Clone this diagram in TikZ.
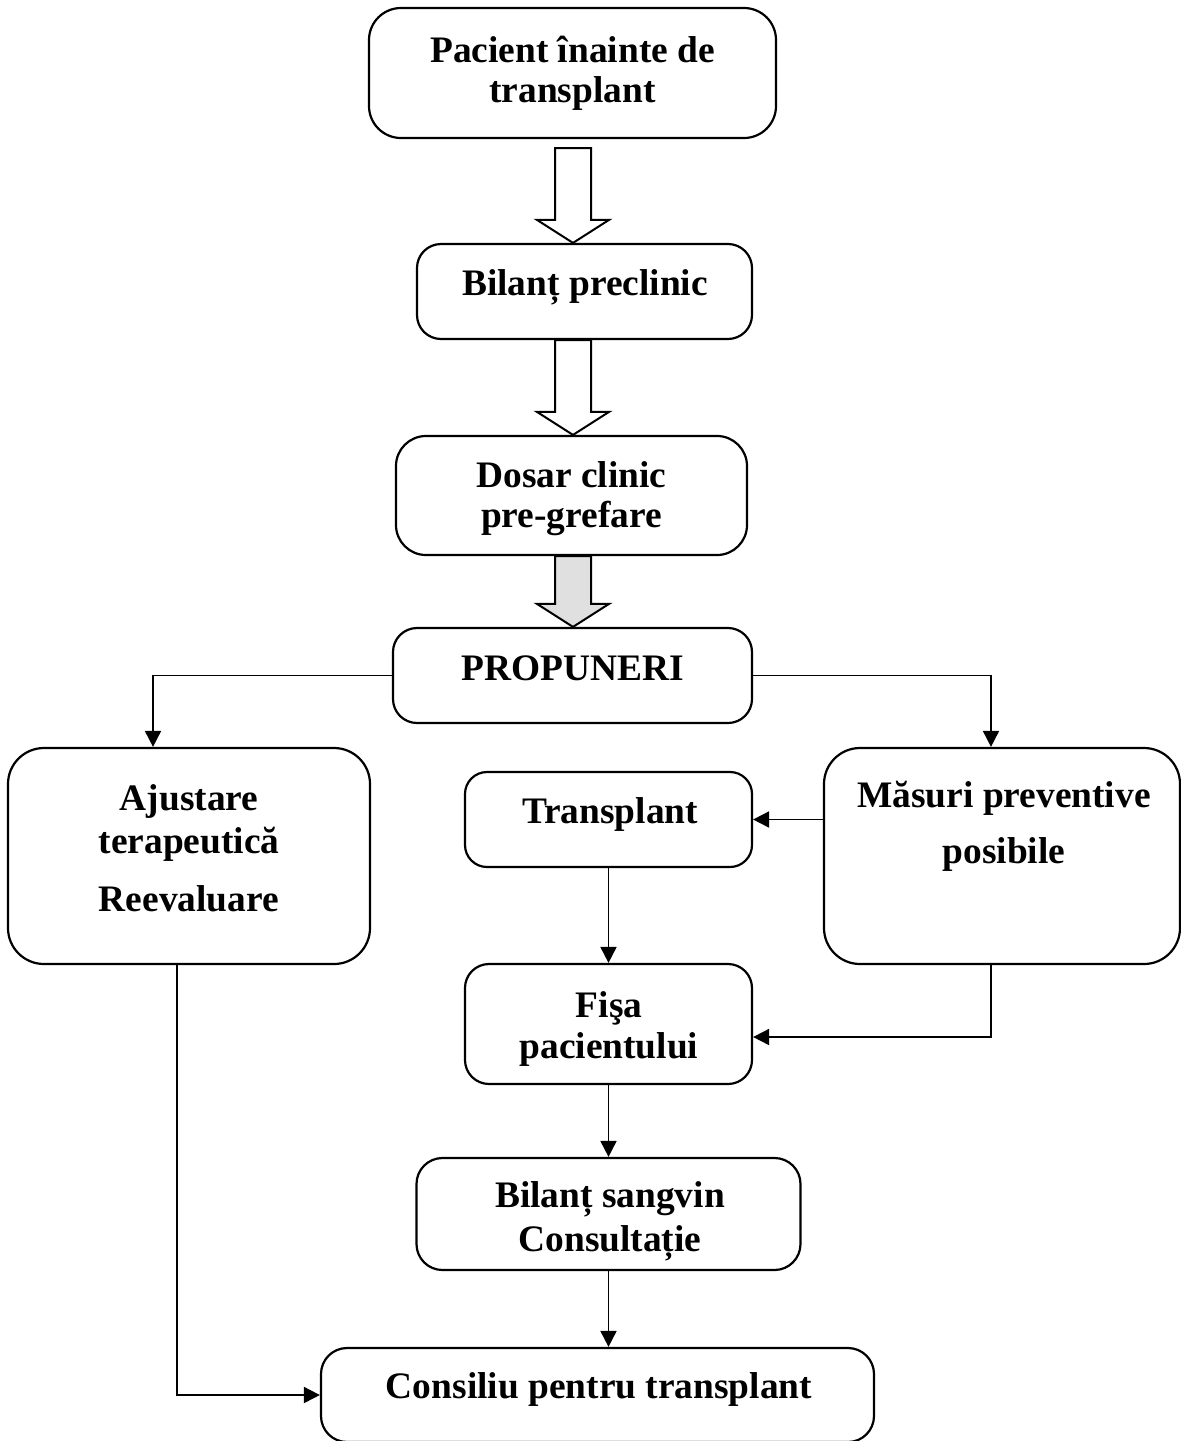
\documentclass[tikz,border=0pt]{standalone}
\usepackage{fontspec}
\setmainfont{Liberation Serif}
\usetikzlibrary{calc,arrows.meta}
\definecolor{shadegray}{gray}{0.88}
\def\fatarrow[#1](#2)(#3){\draw[fat,#1] ($(#2)+(-18,0)$) -- ($(#3)+(-18,-23)$) -- ($(#3)+(-36,-23)$) -- (#3) -- ($(#3)+(36,-23)$) -- ($(#3)+(18,-23)$) -- ($(#2)+(18,0)$) -- cycle;}

\begin{document}
\begin{tikzpicture}[x=0.5pt,y=-0.5pt,
		box/.style={draw, line width=1.1pt, rounded corners=#1, inner sep=0pt},
		box/.default=13pt,
		txt/.style={font=\bfseries\fontsize{18.7}{20}\selectfont, align=center, inner sep=0pt},
		link/.style={line width=0.9pt, -{Triangle[length=8pt,width=8pt]}},
		fat/.style={line width=1pt, fill=white}]
		\useasboundingbox (0,0) rectangle (1181,1441);
		%%%%% BOXES %%%%%
		\node[box=16pt, minimum width=203.5pt, minimum height=65pt] (pacient) at (572.5,73) {};
		\node[box=12pt, minimum width=167.5pt, minimum height=47.5pt] (bilant) at (584.5,291.5) {};
		\node[box=15pt, minimum width=175.5pt, minimum height=59.5pt] (dosar) at (571.5,495.5) {};
		\node[box=12pt, minimum width=179.5pt, minimum height=47.5pt] (propuneri) at (572.5,675.5) {};
		\node[box=18pt, minimum width=181pt, minimum height=108pt] (ajustare) at (189,856) {};
		\node[box=18pt, minimum width=178pt, minimum height=108pt] (masuri) at (1002,856) {};
		\node[box=11pt, minimum width=143.5pt, minimum height=47.5pt] (transplant) at (608.5,819.5) {};
		\node[box=12pt, minimum width=143.5pt, minimum height=60pt] (fisa) at (608.5,1024) {};
		\node[box=13pt, minimum width=192pt, minimum height=56pt] (sangvin) at (608.5,1214) {};
		\node[box=13pt, minimum width=276.5pt, minimum height=47pt] (consiliu) at (597.5,1395) {};
		
		%%%%% TEXTS %%%%%
		\node[txt] (t-pacient) at (572.5,73) {Pacient înainte de\\transplant};
		\node[txt, anchor=base] (t-bilant) at (585,295) {Bilanț preclinic};
		\node[txt] (t-dosar) at (571.5,499) {Dosar clinic\\pre-grefare};
		\node[txt, anchor=base] (t-propuneri) at (572.5,680) {PROPUNERI};
		\node[txt] (t-ajustare) at (189,848) {Ajustare\\[1.5pt]terapeutică\\[9pt]Reevaluare};
		\node[txt] (t-masuri) at (1004,826) {Măsuri preventive\\[8pt]posibile};
		\node[txt, anchor=base] (t-transplant) at (610,823) {Transplant};
		\node[txt] (t-fisa) at (609,1028.5) {Fişa\\[0.5pt]pacientului};
		\node[txt] (t-sangvin) at (610,1221) {Bilanț sangvin\\[2pt]Consultație};
		\node[txt, anchor=base] (t-consiliu) at (599,1398) {Consiliu pentru transplant};
		
		%%%%% ARROWS %%%%%
		\coordinate (a1) at (573,148);
		\fatarrow[](a1)(a1 |- bilant.north);
		\fatarrow[](a1 |- bilant.south)(a1 |- dosar.north);
		\fatarrow[fill=shadegray](a1 |- dosar.south)(a1 |- propuneri.north);
		
		\draw[link] (propuneri.west) -| ($(ajustare.north)+(-36,0)$);
		\draw[link] (propuneri.east) -| ($(masuri.north)+(-11,0)$);
		\draw[link] (masuri.west |- transplant.east) -- (transplant.east);
		\draw[link] (transplant.south) -- (fisa.north);
		\draw[link] ($(masuri.south)+(-11,0)$) |- ($(fisa.east)+(0,13)$);
		\draw[link] (fisa.south) -- (sangvin.north);
		\draw[link] (sangvin.south) -- (sangvin.south |- consiliu.north);
		\draw[link] ($(ajustare.south)+(-12,0)$) |- (consiliu.west);
	\end{tikzpicture}
\end{document}
